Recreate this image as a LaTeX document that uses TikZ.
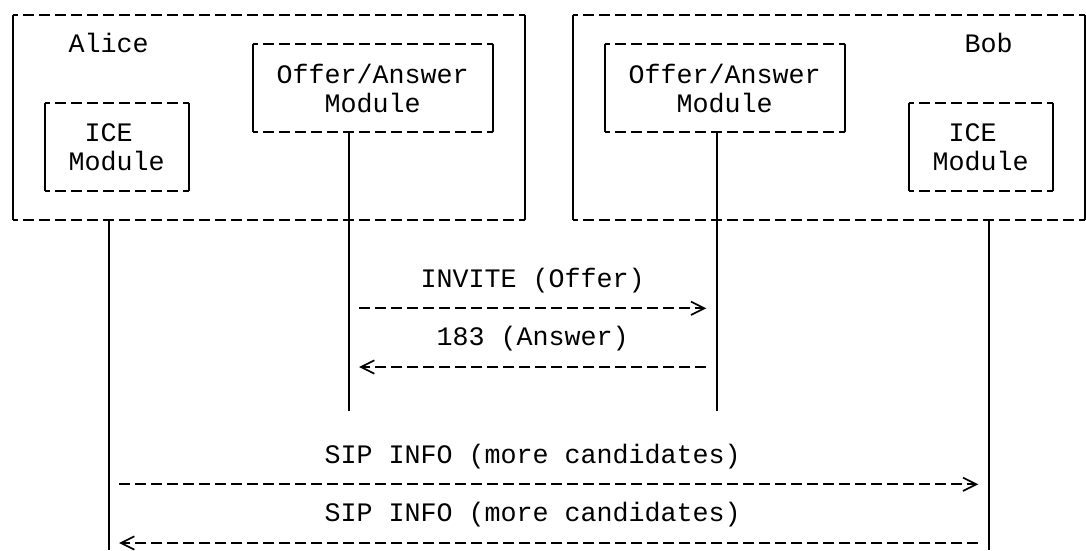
\documentclass[tikz,border=0pt]{standalone}
\usepackage{fontspec}
\setmonofont{Liberation Mono}
\usetikzlibrary{arrows.meta}

\tikzset{
  every node/.style={font=\ttfamily\fontsize{10pt}{11pt}\selectfont},
  box/.style 2 args={inner sep=0pt, outer sep=0pt, align=center,
    minimum width=#1*6pt, minimum height=#2*11pt},
  tag/.style={anchor=base, inner sep=0pt, yshift=-3.1pt},
  hdash/.style={line width=0.65pt, dash pattern=on 4.2pt off 1.8pt, dash phase=2.1pt},
  vbar/.style={line width=0.65pt},
  msg/.style={line width=0.65pt, dash pattern=on 4.2pt off 1.8pt,
    shorten <=3.9pt, shorten >=3.9pt, ->}
}

\begin{document}
\begin{tikzpicture}[x=6pt, y=-11pt, >={Straight Barb[length=5pt, width=5pt]}]
  \useasboundingbox (-0.79,-0.51) rectangle (67.08,18.24);
  \fill[white] (-0.79,-0.51) rectangle (67.08,18.24);

  % the two endpoints
  \node[box={32}{7}] (alice) at (16,3.5) {};
  \node[box={32}{7}] (bob) at (51,3.5) {};
  \node[tag] (alicename) at (6,1) {Alice};
  \node[tag] (bobname) at (61,1) {Bob};

  % modules inside them
  \node[box={15}{3}] (aliceoa) at (22.5,2.5) {Offer/Answer\\Module};
  \node[box={15}{3}] (boboa) at (44.5,2.5) {Offer/Answer\\Module};
  \node[box={9}{3}] (aliceice) at (6.5,4.5) {ICE\phantom{E}\\Module};
  \node[box={9}{3}] (bobice) at (60.5,4.5) {ICE\phantom{E}\\Module};

  \foreach \b in {alice, bob, aliceoa, boboa, aliceice, bobice} {
    \draw[hdash] (\b.north west) -- (\b.north east);
    \draw[hdash] (\b.south west) -- (\b.south east);
    \draw[vbar] (\b.north west) -- (\b.south west);
    \draw[vbar] (\b.north east) -- (\b.south east);
  }

  % lifelines
  \coordinate (alicetop) at (6,7);
  \coordinate (aliceend) at (6,18.24);
  \coordinate (aoatop) at (21,4);
  \coordinate (aoaend) at (21,13.5);
  \coordinate (boatop) at (44,4);
  \coordinate (boaend) at (44,13.5);
  \coordinate (bobtop) at (61,7);
  \coordinate (bobend) at (61,18.24);
  \foreach \l in {alice, aoa, boa, bob}
    \draw[vbar] (\l top) -- (\l end);

  % offer/answer exchange
  \node[tag] (invite) at (32.5,9) {INVITE (Offer)};
  \draw[msg] (aoatop |- 0,10) -- (boatop |- 0,10);
  \node[tag] (answer) at (32.5,11) {183 (Answer)};
  \draw[msg] (boatop |- 0,12) -- (aoatop |- 0,12);

  % trickled candidates
  \node[tag] (info) at (32.5,15) {SIP INFO (more candidates)};
  \draw[msg] (alicetop |- 0,16) -- (bobtop |- 0,16);
  \node[tag] (inforeply) at (32.5,17) {SIP INFO (more candidates)};
  \draw[msg] (bobtop |- 0,18) -- (alicetop |- 0,18);
\end{tikzpicture}
\end{document}
